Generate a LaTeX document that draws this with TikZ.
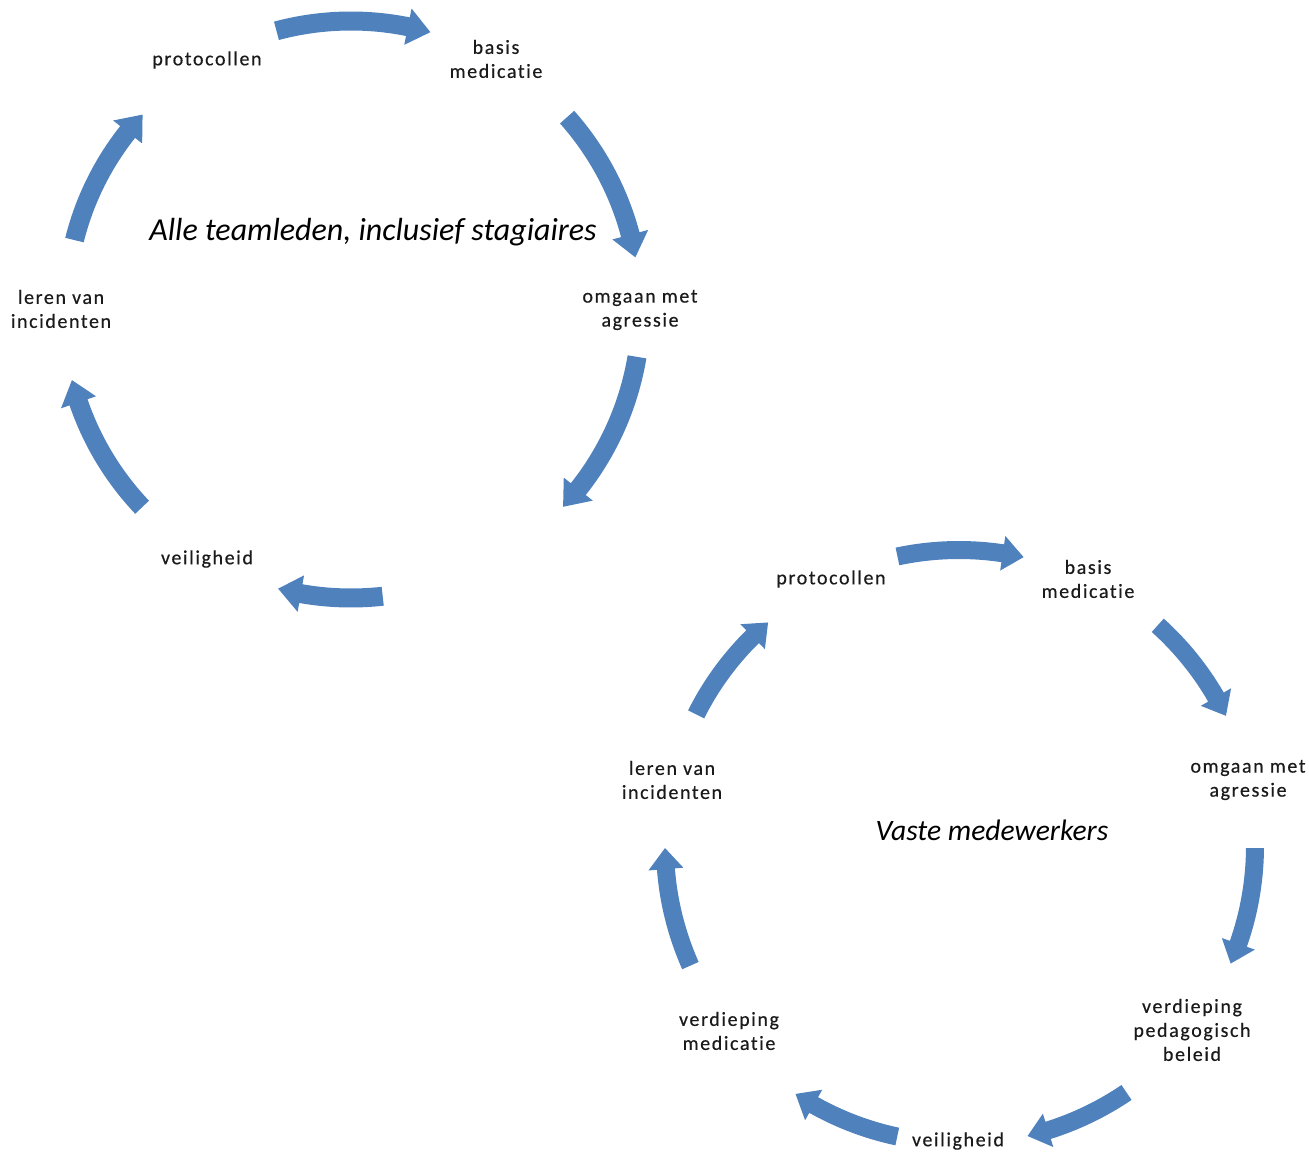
\documentclass[tikz,border=0pt]{standalone}
\usepackage{fontspec}
\setmainfont{Carlito}[Ligatures={NoCommon}]
\newfontfamily\lblfont[LetterSpace=8,Ligatures={NoCommon},FakeBold=0.4]{Carlito}
\definecolor{arrowblue}{HTML}{4F81BD}
\definecolor{lbltext}{HTML}{1A1A1A}
\tikzset{
  arrowfill/.style={fill=arrowblue},
  lbl/.style={align=center, inner sep=0pt, text=lbltext,
    font=\lblfont\fontsize{20}{24}\selectfont},
  ttl/.style={inner sep=0pt, text=black, font=\itshape\fontsize{#1}{#1}\selectfont},
}
% #1 centre, #2 radius, #3 tail angle, #4 tip angle, #5 half shaft, #6 half head, #7 head angle
\newcommand\cyclearrow[7]{%
  \begin{scope}[shift={(#1)}]
  \pgfmathsetmacro\hbang{#4+#7}
  \fill[arrowfill] (#3:{#2+#5}) arc[start angle=#3, end angle=\hbang, radius={#2+#5}]
    -- (\hbang:{#2+#6}) -- (#4:#2) -- (\hbang:{#2-#6}) -- (\hbang:{#2-#5})
    arc[start angle=\hbang, end angle=#3, radius={#2-#5}] -- cycle;
  \end{scope}}
\begin{document}
\begin{tikzpicture}[x=1pt,y=1pt]
\useasboundingbox (0,0) rectangle (1309,-1153);
% ---------- cycle 1 ----------
\coordinate (c1) at (351,-309);
\node[lbl] (p1) at (207,-60) {protocollen};
\node[lbl] (b1) at (496,-59) {basis\\medicatie};
\node[lbl] (o1) at (640,-310) {omgaan met\\agressie};
\node[lbl] (v1) at (207,-559) {veiligheid};
\node[lbl] (l1) at (61,-309) {leren van\\incidenten};
\node[ttl=32] (t1) at (373,-232) {Alle teamleden, inclusief stagiaires};
\cyclearrow{c1}{288}{105}{74}{9.5}{18.5}{4.6}
\cyclearrow{c1}{289}{41.6}{10.3}{9.5}{18.5}{4.6}
\cyclearrow{c1}{290}{-9.5}{-43}{9.5}{18.5}{4.6}
\cyclearrow{c1}{289}{276.3}{255.4}{9.5}{18.5}{4.6}
\cyclearrow{c1}{288}{223.5}{194.3}{9.5}{18.5}{4.6}
\cyclearrow{c1}{285}{166}{137}{9.5}{18.5}{4.6}
% ---------- cycle 2 ----------
\coordinate (c2) at (959,-846);
\node[lbl] (p2) at (831,-579) {protocollen};
\node[lbl] (b2) at (1088,-579) {basis\\medicatie};
\node[lbl] (o2) at (1248,-780) {omgaan met\\agressie};
\node[lbl] (d2) at (1192,-1030) {verdieping\\pedagogisch\\beleid};
\node[lbl] (v2) at (958,-1141) {veiligheid};
\node[lbl] (m2) at (729,-1031) {verdieping\\medicatie};
\node[lbl] (l2) at (672,-780) {leren van\\incidenten};
\node[ttl=29.6] (t2) at (992,-830) {Vaste medewerkers};
\cyclearrow{c2}{296}{102}{77.4}{9}{17.5}{4.1}
\cyclearrow{c2}{297}{48}{26}{9}{17.5}{4.1}
\cyclearrow{c2}{296}{-0.4}{-23.4}{9}{17.5}{4.1}
\cyclearrow{c2}{298}{-55.8}{-76.7}{9}{17.5}{4.1}
\cyclearrow{c2}{297}{258}{236.6}{9}{17.5}{4.1}
\cyclearrow{c2}{294}{204}{180.4}{9}{17.5}{4.1}
\cyclearrow{c2}{294}{153.4}{130.5}{9}{17.5}{4.1}
\end{tikzpicture}
\end{document}
